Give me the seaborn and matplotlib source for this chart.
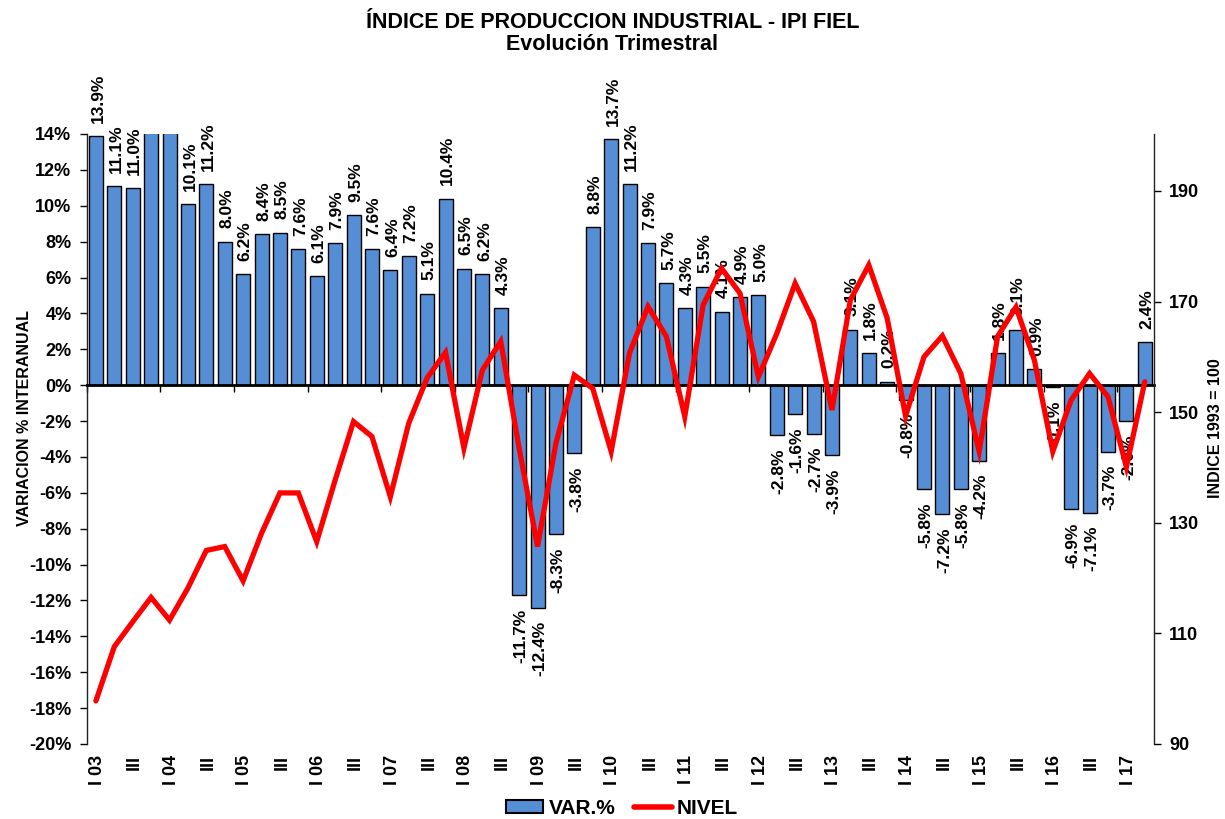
import matplotlib
matplotlib.use("Agg")
import matplotlib.pyplot as plt
from matplotlib.patches import Patch
from matplotlib.lines import Line2D
from matplotlib.ticker import FixedLocator, FuncFormatter
import seaborn as sns
import numpy as np
import pandas as pd

sns.set_style("white")
plt.rcParams['font.family'] = ['Liberation Sans', 'DejaVu Sans']
plt.rcParams['font.weight'] = 'bold'
for k in ["text.color", "axes.labelcolor", "xtick.color", "ytick.color"]:
    plt.rcParams[k] = "black"

# --- data ---------------------------------------------------------------
years = ["03", "04", "05", "06", "07", "08", "09", "10",
         "11", "12", "13", "14", "15", "16", "17"]
quarter_names = ["I", "II", "III", "IV"]

# year-on-year variation (%), 2003-Q1 .. 2017-Q2 (2003-Q4 and 2004-Q1 exceed the axis)
var_pct = [13.9, 11.1, 11.0, 14.8, 16.0, 10.1, 11.2, 8.0,
           6.2, 8.4, 8.5, 7.6, 6.1, 7.9, 9.5, 7.6,
           6.4, 7.2, 5.1, 10.4, 6.5, 6.2, 4.3, -11.7,
           -12.4, -8.3, -3.8, 8.8, 13.7, 11.2, 7.9, 5.7,
           4.3, 5.5, 4.1, 4.9, 5.0, -2.8, -1.6, -2.7,
           -3.9, 3.1, 1.8, 0.2, -0.8, -5.8, -7.2, -5.8,
           -4.2, 1.8, 3.1, 0.9, -0.1, -6.9, -7.1, -3.7,
           -2.0, 2.4]

# index level (1993 = 100)
nivel = [97.8, 107.6, 112.1, 116.5, 112.4, 118.2, 125.0, 125.7,
         119.5, 128.1, 135.4, 135.4, 126.6, 137.7, 148.3, 145.6,
         134.7, 148.0, 156.2, 160.8, 143.5, 157.6, 162.8, 143.5,
         125.7, 144.4, 156.7, 154.3, 142.9, 160.7, 169.1, 163.7,
         149.2, 169.4, 176.0, 171.5, 156.4, 164.2, 173.3, 166.4,
         150.4, 170.3, 176.6, 167.0, 149.3, 160.0, 163.8, 157.0,
         142.9, 163.7, 169.0, 159.4, 142.9, 152.2, 157.0, 152.8,
         140.1, 155.5]

n = len(var_pct)
periods = [f"{quarter_names[i % 4]} {years[i // 4]}" for i in range(n)]
tick_text = [(f"I {years[i // 4]}" if i % 4 == 0 else ("III" if i % 4 == 2 else "")) for i in range(n)]

df = pd.DataFrame({"periodo": periods, "var": var_pct, "nivel": nivel, "pos": np.arange(n)})

BLUE = "#558ED5"
RED = "#FF0000"

fig = plt.figure(figsize=(12.25, 8.19), dpi=100)
W, H = 1225, 819
x0, x1, y0, y1 = 86.7, 1154, 134, 744
ax = fig.add_axes([x0 / W, 1 - y1 / H, (x1 - x0) / W, (y1 - y0) / H])

sns.barplot(data=df, x="periodo", y="var", color=BLUE, width=0.76,
            edgecolor="black", linewidth=1.0, saturation=1, ax=ax, zorder=2)
ax.set_xlim(-0.5, n - 0.5)
ax.set_ylim(-20, 14)
ax.set_xlabel("")
ax.set_ylabel("")

# left axis
ax.yaxis.set_major_locator(FixedLocator(np.arange(-20, 15, 2)))
ax.yaxis.set_major_formatter(FuncFormatter(lambda v, p: f"{int(round(v))}%"))
ax.tick_params(axis="y", labelsize=13, length=5, width=1, direction="out", left=True, pad=6,
               labelcolor="black")
for t in ax.get_yticklabels():
    t.set_fontweight("bold")

# bottom axis at zero, ticks between years
ax.spines["top"].set_visible(False)
ax.spines["right"].set_visible(False)
ax.spines["bottom"].set_position(("data", 0))
ax.spines["bottom"].set_linewidth(2)
ax.spines["bottom"].set_color("black")
ax.spines["left"].set_color("#222222")
ax.spines["left"].set_linewidth(1)
ax.xaxis.set_major_locator(FixedLocator(np.arange(-0.5, n, 4)))
ax.tick_params(axis="x", length=5, width=1, direction="out", bottom=True, labelbottom=False)

for i, lab in enumerate(tick_text):
    if lab:
        ax.text(i + 0.1, -20.6, lab, rotation=90, ha="center", va="top", fontsize=13,
                fontweight="bold", transform=ax.transData, clip_on=False)

# data labels
for i, v in enumerate(var_pct):
    if v > 14:
        continue
    if v >= 0:
        ax.annotate(f"{v:.1f}%", (i, v), xytext=(1.5, 9.5), textcoords="offset points",
                    rotation=90, ha="center", va="bottom", fontsize=12.5, fontweight="bold")
    else:
        ax.annotate(f"{v:.1f}%", (i, v), xytext=(1.5, -9.5), textcoords="offset points",
                    rotation=90, ha="center", va="top", fontsize=12.5, fontweight="bold")

# right axis: level
ax2 = ax.twinx()
sns.lineplot(data=df, x="pos", y="nivel", color=RED, linewidth=3.8, ax=ax2,
             solid_joinstyle="miter", zorder=3)
ax2.set_ylim(90, 200.3)
ax2.set_xlim(-0.5, n - 0.5)
ax2.set_ylabel("")
ax2.set_xlabel("")
ax2.yaxis.set_major_locator(FixedLocator([90, 110, 130, 150, 170, 190]))
ax2.tick_params(axis="y", labelsize=13, length=5, width=1, direction="out", right=True, pad=6,
                labelcolor="black")
for t in ax2.get_yticklabels():
    t.set_fontweight("bold")
for s in ["top", "left", "bottom"]:
    ax2.spines[s].set_visible(False)
ax2.spines["right"].set_color("#222222")
ax2.spines["right"].set_linewidth(1)
ax2.tick_params(axis="x", bottom=False, labelbottom=False)

# titles and axis titles
fig.text(0.5, 1 - 23 / H, "ÍNDICE DE PRODUCCION INDUSTRIAL - IPI FIEL", ha="center", va="center",
         fontsize=15.5, fontweight="bold")
fig.text(0.5, 1 - 44 / H, "Evolución Trimestral", ha="center", va="center",
         fontsize=15.5, fontweight="bold")
fig.text(25 / W, 1 - 418 / H, "VARIACION % INTERANUAL", rotation=90, ha="center", va="center",
         fontsize=11.5, fontweight="bold")
fig.text(1215 / W, 1 - 428 / H, "INDICE 1993 = 100", rotation=90, ha="center", va="center",
         fontsize=11.5, fontweight="bold")

handles = [Patch(facecolor=BLUE, edgecolor="black", linewidth=1.5),
           Line2D([0], [0], color=RED, linewidth=4)]
leg = fig.legend(handles, ["VAR.%", "NIVEL"], loc="center", bbox_to_anchor=(622 / W, 1 - 808 / H),
                 ncol=2, frameon=False, prop={"weight": "bold", "size": 15},
                 handlelength=1.8, handleheight=0.6, handletextpad=0.25, columnspacing=0.9)

fig.savefig("out.png", dpi=100)
